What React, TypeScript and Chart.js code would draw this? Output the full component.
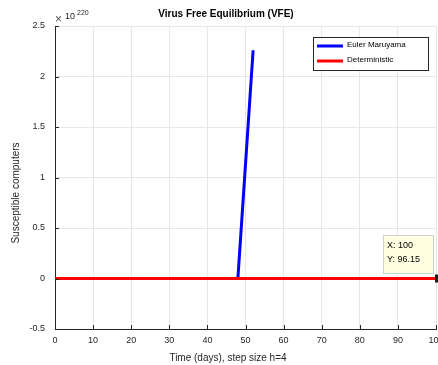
import React, { useEffect, useRef } from "react";
import { Chart, registerables } from "chart.js";

Chart.register(...registerables);

const EXP = 1e220;
const eulerTimes = [0, 4, 8, 12, 16, 20, 24, 28, 32, 36, 40, 44, 48, 52];
const eulerValues = [0, 0, 0, 0, 0, 0, 0, 0, 0, 0, 0, 0, 0, 2.26e220];
const detTimes = [0, 4, 8, 12, 16, 20, 24, 28, 32, 36, 40, 44, 48, 52, 56, 60, 64, 68, 72, 76, 80, 84, 88, 92, 96, 100];
const detValues = detTimes.map(() => 96.15);
const yTickValues = [-0.5, 0, 0.5, 1, 1.5, 2, 2.5];
const xTickValues = [0, 10, 20, 30, 40, 50, 60, 70, 80, 90, 100];
const seriesNames = ["Euler Maruyama", "Deterministic"];
const tipX = 100;
const tipY = 96.15;

const FONT = "'Liberation Sans', Arial, Helvetica, sans-serif";
const TXT = "#262626";

export default function App() {
  const ref = useRef<HTMLCanvasElement>(null);
  useEffect(() => {
    document.body.style.margin = "0";
    const canvas = ref.current!;
    const overlay = {
      id: "overlay",
      afterDraw(chart: any) {
        const ctx = chart.ctx;
        const area = chart.chartArea;
        const xs = chart.scales.x;
        const ys = chart.scales.y;
        ctx.save();
        // inward tick marks
        ctx.strokeStyle = TXT;
        ctx.lineWidth = 1;
        ctx.beginPath();
        for (const v of yTickValues) {
          const py = Math.round(ys.getPixelForValue(v * EXP)) + 0.5;
          ctx.moveTo(area.left, py);
          ctx.lineTo(area.left + 4, py);
        }
        for (const v of xTickValues) {
          const px = Math.round(xs.getPixelForValue(v)) + 0.5;
          ctx.moveTo(px, area.bottom);
          ctx.lineTo(px, area.bottom - 4);
        }
        ctx.stroke();
        // title
        ctx.fillStyle = "#000";
        ctx.font = `bold 10px ${FONT}`;
        ctx.textAlign = "center";
        ctx.textBaseline = "middle";
        ctx.fillText("Virus Free Equilibrium (VFE)", 226, 14);
        // x label
        ctx.fillStyle = TXT;
        ctx.font = `10px ${FONT}`;
        ctx.fillText("Time (days), step size h=4", 228, 358);
        // y label
        ctx.save();
        ctx.translate(16, 193);
        ctx.rotate(-Math.PI / 2);
        ctx.fillText("Susceptible computers", 0, 0);
        ctx.restore();
        // exponent
        ctx.textAlign = "left";
        ctx.fillStyle = "#555";
        ctx.font = `12px ${FONT}`;
        ctx.fillText("\u00d7", 55, 20);
        ctx.fillStyle = TXT;
        ctx.font = `9px ${FONT}`;
        ctx.fillText("10", 65, 17);
        ctx.font = `7px ${FONT}`;
        ctx.fillText("220", 77, 13);
        // legend
        ctx.fillStyle = "#fff";
        ctx.fillRect(313.5, 37.5, 115, 33);
        ctx.strokeStyle = TXT;
        ctx.strokeRect(313.5, 37.5, 115, 33);
        const colors = ["#0000ff", "#ff0000"];
        const ly = [46, 61];
        for (let i = 0; i < 2; i++) {
          ctx.strokeStyle = colors[i];
          ctx.lineWidth = 3;
          ctx.beginPath();
          ctx.moveTo(317, ly[i]);
          ctx.lineTo(343, ly[i]);
          ctx.stroke();
          ctx.fillStyle = "#000";
          ctx.font = `8px ${FONT}`;
          ctx.textBaseline = "middle";
          ctx.fillText(seriesNames[i], 347, ly[i] - 1);
        }
        // data tip marker
        const mx = xs.getPixelForValue(tipX);
        const my = ys.getPixelForValue(tipY);
        ctx.fillStyle = "#1a1a1a";
        ctx.fillRect(mx - 1, my - 4, 8, 8);
        // data tip box
        ctx.fillStyle = "#ffffe1";
        ctx.fillRect(383.5, 235.5, 50, 38);
        ctx.strokeStyle = "#d0d0d0";
        ctx.lineWidth = 1;
        ctx.strokeRect(383.5, 235.5, 50, 38);
        ctx.fillStyle = "#000";
        ctx.font = `9px ${FONT}`;
        ctx.fillText(`X: ${tipX}`, 387, 246);
        ctx.fillText(`Y: ${tipY}`, 387, 260);
        ctx.restore();
      },
    };
    const chart = new Chart(canvas, {
      type: "line",
      data: {
        datasets: [
          {
            label: seriesNames[1],
            data: detTimes.map((t, i) => ({ x: t, y: detValues[i] })),
            borderColor: "#ff0000",
            borderWidth: 3,
            pointRadius: 0,
            fill: false,
          },
          {
            label: seriesNames[0],
            data: eulerTimes.map((t, i) => ({ x: t, y: eulerValues[i] })),
            borderColor: "#0000ff",
            borderWidth: 3,
            pointRadius: 0,
            fill: false,
          },
        ],
      },
      options: {
        animation: false,
        responsive: false,
        devicePixelRatio: 1,
        layout: { padding: { top: 26, left: 0, right: 2, bottom: 0 } },
        plugins: {
          legend: { display: false },
          title: { display: false },
          tooltip: { enabled: false },
        },
        scales: {
          x: {
            type: "linear",
            min: 0,
            max: 100,
            afterBuildTicks: (s: any) => {
              s.ticks = xTickValues.map((v) => ({ value: v }));
            },
            afterFit: (s: any) => {
              s.height = 36;
              s.paddingLeft = 0;
              s.paddingRight = 0;
            },
            grid: { color: "#e6e6e6", lineWidth: 1, drawTicks: false },
            border: { display: true, color: TXT, width: 1 },
            ticks: {
              maxRotation: 0,
              autoSkip: false,
              padding: 6,
              color: TXT,
              font: { family: FONT, size: 9 },
            },
          },
          y: {
            type: "linear",
            min: -0.5 * EXP,
            max: 2.5 * EXP,
            afterBuildTicks: (s: any) => {
              s.ticks = yTickValues.map((v) => ({ value: v * EXP }));
            },
            afterFit: (s: any) => {
              s.width = 55;
              s.paddingTop = 0;
              s.paddingBottom = 0;
            },
            grid: { color: "#e6e6e6", lineWidth: 1, drawTicks: false },
            border: { display: true, color: TXT, width: 1 },
            ticks: {
              padding: 10,
              color: TXT,
              font: { family: FONT, size: 9 },
              callback: (v: any) => String(Math.round((Number(v) / EXP) * 10) / 10),
            },
          },
        },
      },
      plugins: [overlay],
    });
    return () => chart.destroy();
  }, []);
  return <canvas ref={ref} width={438} height={365} style={{ display: "block" }} />;
}
